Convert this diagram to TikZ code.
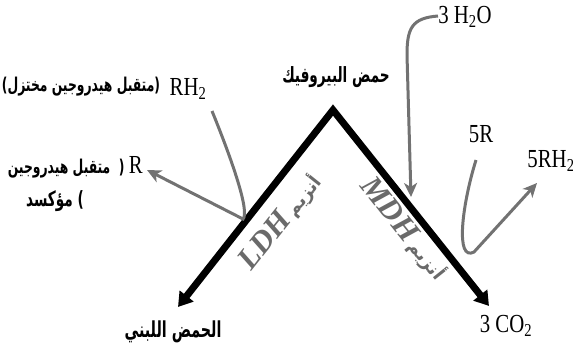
\documentclass[tikz,border=0pt]{standalone}
\usepackage{fontspec}
\TeXXeTstate=1
\newfontfamily\ar[Script=Arabic,FakeStretch=0.65]{DejaVu Sans}
\newfontfamily\arw[Script=Arabic]{DejaVu Sans}
\newfontfamily\lat[FakeStretch=0.8]{Liberation Serif}
\newfontfamily\latn{Liberation Serif}
\usetikzlibrary{arrows.meta}
\definecolor{arrowgray}{HTML}{727272}
\definecolor{labgray}{HTML}{6A6A6A}
\tikzset{
  artext/.style={font=\ar\bfseries, inner sep=0pt},
  latext/.style={font=\lat\fontsize{26}{28}\selectfont, inner sep=0pt},
  mainline/.style={line width=7pt, line join=miter, {Triangle[width=17pt,length=14pt]}-{Triangle[width=17pt,length=14pt]}},
  sideline/.style={draw=arrowgray, line width=3pt, -{Stealth[width=13pt,length=14pt,inset=4pt]}},
  enzlabel/.style={text=labgray, inner sep=0pt}
}
\begin{document}
\begin{tikzpicture}[x=1pt,y=-1pt]
\useasboundingbox (0,0) rectangle (573,356);
% main nodes
\node[artext] (pyr) at (336,77) {\fontsize{21}{24}\selectfont\beginR حمض البيروفيك\endR};
\coordinate (apex) at (333,110);
\coordinate (lacEnd) at (178,307);
\coordinate (co2End) at (489,306);
\node[artext] (lac) at (173,332) {\fontsize{22}{24}\selectfont\beginR الحمض اللبني\endR};
\node[latext] (co2) at (506,326) {3 CO\textsubscript{2}};
% main lines
\draw[mainline] (lacEnd) -- (apex) -- (co2End);
% left side labels
\node[artext] (redlab) at (81,87) {\fontsize{19}{22}\selectfont\beginR(متقبل هيدروجين مختزل)\endR};
\node[latext] (rh2) at (188,89) {RH\textsubscript{2}};
\node[artext, anchor=east] (oxlab1) at (143,167) {\fontsize{19}{22}\selectfont\beginR متقبل هيدروجين\endR\ \ (\ {\lat\mdseries\fontsize{26}{28}\selectfont R}};
\node[artext] (oxlab2) at (55,201) {\fontsize{21}{24}\selectfont\beginR مؤكسد\endR\ )};
% right side labels
\node[latext] (h2o) at (465,17) {3 H\textsubscript{2}O};
\node[latext] (r5) at (481,134) {5R};
\node[latext] (rh25) at (551,161) {5RH\textsubscript{2}};
% enzyme labels
\node[enzlabel, rotate=51.5] (ldh) at (281,222)
  {{\latn\bfseries\itshape\fontsize{31}{33}\selectfont LDH}\ {\arw\bfseries\fontsize{18}{20}\selectfont\beginR أنزيم\endR}};
\node[enzlabel, rotate=-51.5] (mdh) at (404,229)
  {{\latn\bfseries\itshape\fontsize{31}{33}\selectfont MDH}\ {\arw\bfseries\fontsize{18}{20}\selectfont\beginR أنزيم\endR}};
% side arrows
\coordinate (rh2start) at (212,111);
\coordinate (ltTurn) at (243,219);
\coordinate (rtip) at (147,170);
\draw[sideline] (rh2start) .. controls (232,160) and (250,212) .. (ltTurn) -- (rtip);
\coordinate (h2ostart) at (438,16);
\coordinate (h2otip) at (411,197);
\draw[sideline] (h2ostart) .. controls (412,18) and (407,28) .. (407,55) -- (h2otip);
\coordinate (r5start) at (476,160);
\coordinate (rh25tip) at (537,183);
\draw[sideline] (r5start) .. controls (462,205) and (455,262) .. (474,252) -- (rh25tip);
\end{tikzpicture}
\end{document}
